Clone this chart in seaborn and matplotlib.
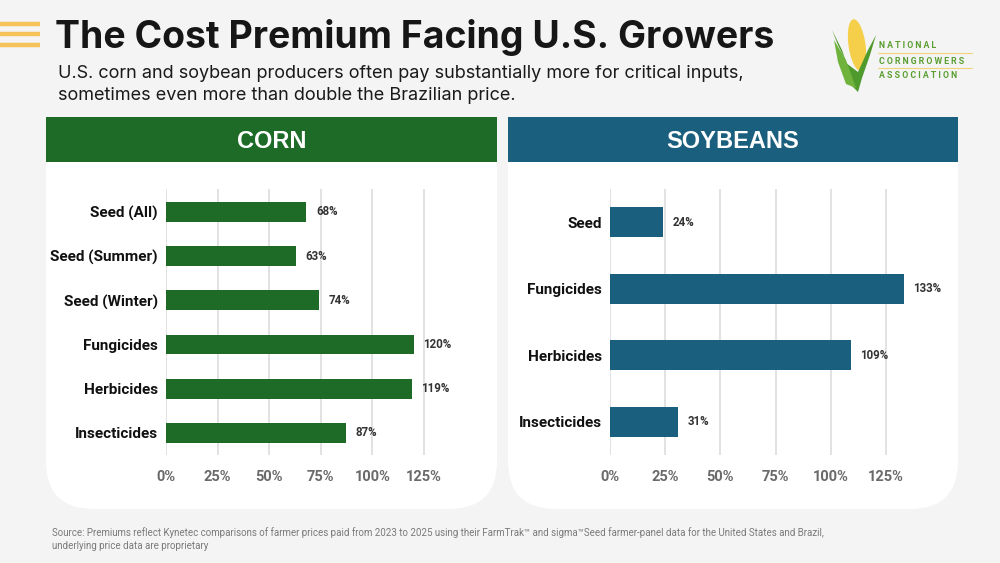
import matplotlib
matplotlib.use("Agg")
import matplotlib.pyplot as plt
import seaborn as sns
import pandas as pd
from matplotlib.patches import FancyBboxPatch, Rectangle, Ellipse, Polygon

# data
corn_inputs = ["Seed (All)", "Seed (Summer)", "Seed (Winter)", "Fungicides", "Herbicides", "Insecticides"]
corn_premium = [68, 63, 74, 120, 119, 87]
soy_inputs = ["Seed", "Fungicides", "Herbicides", "Insecticides"]
soy_premium = [24, 133, 109, 31]
x_ticks = [0, 25, 50, 75, 100, 125]

corn_df = pd.DataFrame({"input": corn_inputs, "premium": corn_premium})
soy_df = pd.DataFrame({"input": soy_inputs, "premium": soy_premium})

GREEN = "#1d6b27"
BLUE = "#1a5f7e"
BG = "#f4f4f4"

sns.set_theme(style="white")
plt.rcParams["font.family"] = ["Roboto", "DejaVu Sans"]

fig = plt.figure(figsize=(10, 5.63), dpi=100)
fig.patch.set_facecolor(BG)

# background layer in pixel coordinates
bg = fig.add_axes([0, 0, 1, 1], zorder=0)
bg.set_xlim(0, 1000)
bg.set_ylim(563, 0)
bg.axis("off")

# hamburger lines
for yy in [24, 34, 45]:
    bg.plot([0, 40], [yy, yy], color="#f6c25a", lw=3.2, solid_capstyle="butt")

bg.text(55, 48, "The Cost Premium Facing U.S. Growers", fontsize=26.9, fontweight="bold",
        family=["Inter", "DejaVu Sans"], color="#161616", va="baseline")
bg.text(58, 73, "U.S. corn and soybean producers often pay substantially more for critical inputs,",
        fontsize=13, family=["Inter", "DejaVu Sans"], color="#1a1a1a", va="center")
bg.text(58, 95, "sometimes even more than double the Brazilian price.",
        fontsize=13, family=["Inter", "DejaVu Sans"], color="#1a1a1a", va="center")

# panels
for x0, x1, col, name in [(46, 497, GREEN, "CORN"), (508, 958, BLUE, "SOYBEANS")]:
    bg.add_patch(FancyBboxPatch((x0, 117), x1 - x0, 392, boxstyle="round,pad=0,rounding_size=48",
                                fc="white", ec="none"))
    bg.add_patch(Rectangle((x0, 117), x1 - x0, 45, fc=col, ec="none"))
    bg.text((x0 + x1) / 2, 141, name, color="white", fontsize=17, fontweight="bold",
            ha="center", va="center", family=["Liberation Sans", "DejaVu Sans"])

# logo (simplified)
bg.add_patch(Polygon([[832, 30], [842, 50], [852, 80], [858, 92], [850, 70], [838, 45]],
                     fc="#4f9a2c", ec="none"))
bg.add_patch(Ellipse((857, 45), 17, 52, angle=-8, fc="#f5cf4a", ec="none"))
bg.add_patch(Polygon([[876, 35], [870, 55], [862, 78], [858, 92], [846, 80], [842, 60], [858, 72], [868, 50]],
                     fc="#4f9a2c", ec="none"))
bg.add_patch(Polygon([[834, 40], [846, 60], [856, 88], [846, 84], [838, 62]], fc="#6fb33d", ec="none"))
for yy, txt in [(46, "N A T I O N A L"), (61, "C O R N G R O W E R S"), (76, "A S S O C I A T I O N")]:
    bg.text(879, yy, txt, fontsize=6.3, fontweight="bold", color="#5a9e2f", va="center")
for yy in [53, 68]:
    bg.plot([878, 972], [yy, yy], color="#f3d37a", lw=0.8)

src_font = ["Liberation Sans Narrow", "DejaVu Sans Condensed", "Roboto"]
bg.text(52, 533, "Source: Premiums reflect Kynetec comparisons of farmer prices paid from 2023 to 2025 using their FarmTrak\u2122 and sigma\u2122Seed farmer-panel data for the United States and Brazil,",
        fontsize=7.05, color="#7a7a7a", va="center", family=src_font)
bg.text(52, 546, "underlying price data are proprietary",
        fontsize=7.05, color="#7a7a7a", va="center", family=src_font)


def draw_panel(rect, df, color, ylim):
    ax = fig.add_axes(rect, zorder=1)
    ax.patch.set_alpha(0)
    sns.barplot(data=df, x="premium", y="input", color=color, saturation=1, width=0.45, ax=ax,
                edgecolor="none", zorder=3)
    ax.set_xlim(0, 140)
    ax.set_ylim(*ylim)
    ax.set_xticks(x_ticks)
    ax.set_xticklabels([f"{t}%" for t in x_ticks])
    ax.xaxis.grid(True, color="#e2e2e2", lw=1.4, zorder=0)
    ax.set_axisbelow(True)
    for s in ax.spines.values():
        s.set_visible(False)
    ax.set_xlabel("")
    ax.set_ylabel("")
    ax.tick_params(axis="x", length=0, pad=11, labelsize=10.5, labelcolor="#6a6a6a")
    ax.tick_params(axis="y", length=0, pad=6, labelsize=11, labelcolor="#111111")
    for lab in ax.get_xticklabels() + ax.get_yticklabels():
        lab.set_fontweight("bold")
    for i, v in enumerate(df["premium"]):
        ax.annotate(f"{v}%", (v, i), xytext=(7, 0), textcoords="offset points",
                    va="center", ha="left", fontsize=8.3, fontweight="bold", color="#333333")
    return ax


draw_panel([0.166, 1 - 455 / 563, 0.289, 266 / 563], corn_df, GREEN, (5.5, -0.52))
draw_panel([0.610, 1 - 455 / 563, 0.309, 266 / 563], soy_df, BLUE, (3.5, -0.5))

fig.savefig("out.png", dpi=100, facecolor=fig.get_facecolor())
